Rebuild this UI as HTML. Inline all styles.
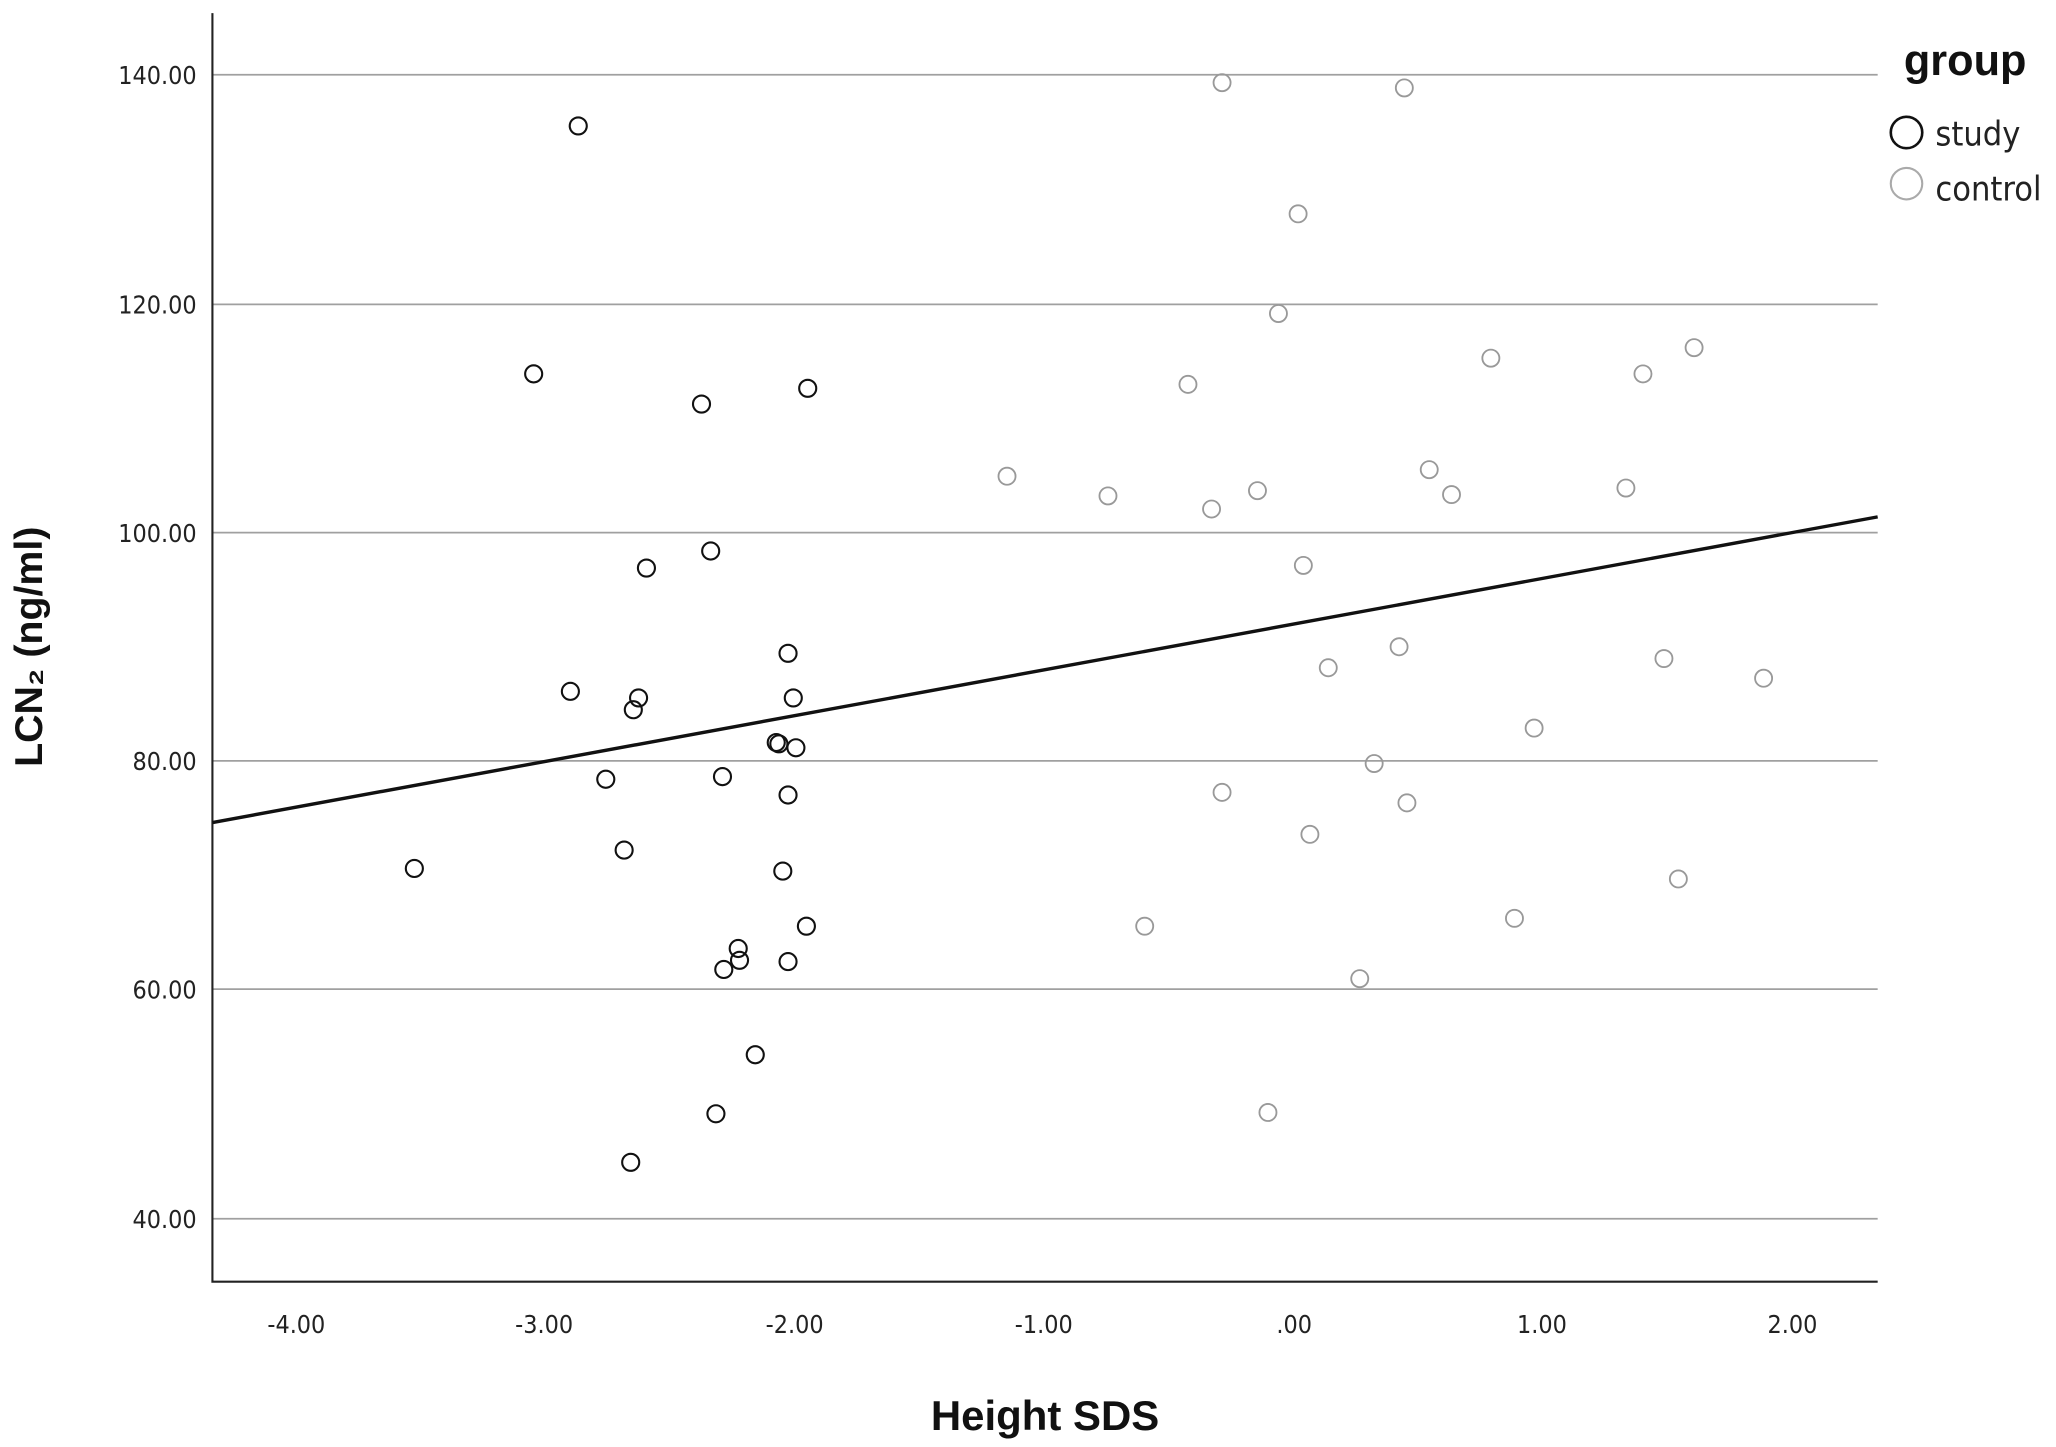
<!DOCTYPE html>
<html><head><meta charset="utf-8"><style>html,body{margin:0;padding:0;background:#fff}svg{display:block}</style></head>
<body>
<svg width="2056" height="1447" viewBox="0 0 1568 1103" preserveAspectRatio="none" xmlns="http://www.w3.org/2000/svg">
<rect width="1568" height="1103" fill="#fff"/>
<g stroke="#a0a0a0" stroke-width="1.3">
<line x1="162" y1="57" x2="1432" y2="57"/><line x1="162" y1="232" x2="1432" y2="232"/>
<line x1="162" y1="406" x2="1432" y2="406"/><line x1="162" y1="580" x2="1432" y2="580"/>
<line x1="162" y1="754" x2="1432" y2="754"/><line x1="162" y1="929" x2="1432" y2="929"/>
</g>
<path d="M162 10 V977 H1432" fill="none" stroke="#222" stroke-width="1.6"/>
<g font-family="'DejaVu Sans Condensed','Liberation Sans',sans-serif" font-size="19" fill="#222" text-anchor="end">
<text x="150" y="64">140.00</text><text x="150" y="239">120.00</text><text x="150" y="413">100.00</text>
<text x="150" y="587">80.00</text><text x="150" y="761">60.00</text><text x="150" y="936">40.00</text>
</g>
<g font-family="'DejaVu Sans Condensed','Liberation Sans',sans-serif" font-size="19" fill="#222" text-anchor="middle">
<text x="226" y="1016">-4.00</text><text x="415" y="1016">-3.00</text><text x="606" y="1016">-2.00</text>
<text x="796" y="1016">-1.00</text><text x="987" y="1016">.00</text><text x="1176" y="1016">1.00</text><text x="1367" y="1016">2.00</text>
</g>
<line x1="162" y1="627" x2="1432" y2="394" stroke="#111" stroke-width="2.6"/>
<g fill="none" stroke="#999" stroke-width="1.4">
<circle cx="932" cy="63" r="6.5"/><circle cx="1071" cy="67" r="6.5"/><circle cx="990" cy="163" r="6.5"/><circle cx="975" cy="239" r="6.5"/><circle cx="1137" cy="273" r="6.5"/><circle cx="1292" cy="265" r="6.5"/><circle cx="1253" cy="285" r="6.5"/><circle cx="906" cy="293" r="6.5"/><circle cx="768" cy="363" r="6.5"/><circle cx="845" cy="378" r="6.5"/><circle cx="924" cy="388" r="6.5"/><circle cx="959" cy="374" r="6.5"/><circle cx="1090" cy="358" r="6.5"/><circle cx="1107" cy="377" r="6.5"/><circle cx="1240" cy="372" r="6.5"/><circle cx="994" cy="431" r="6.5"/><circle cx="1067" cy="493" r="6.5"/><circle cx="1269" cy="502" r="6.5"/><circle cx="1013" cy="509" r="6.5"/><circle cx="1345" cy="517" r="6.5"/><circle cx="1170" cy="555" r="6.5"/><circle cx="1048" cy="582" r="6.5"/><circle cx="932" cy="604" r="6.5"/><circle cx="1073" cy="612" r="6.5"/><circle cx="999" cy="636" r="6.5"/><circle cx="1280" cy="670" r="6.5"/><circle cx="873" cy="706" r="6.5"/><circle cx="1155" cy="700" r="6.5"/><circle cx="1037" cy="746" r="6.5"/><circle cx="967" cy="848" r="6.5"/>
</g>
<g fill="none" stroke="#111" stroke-width="1.6">
<circle cx="441" cy="96" r="6.5"/><circle cx="407" cy="285" r="6.5"/><circle cx="535" cy="308" r="6.5"/><circle cx="616" cy="296" r="6.5"/><circle cx="542" cy="420" r="6.5"/><circle cx="493" cy="433" r="6.5"/><circle cx="601" cy="498" r="6.5"/><circle cx="435" cy="527" r="6.5"/><circle cx="487" cy="532" r="6.5"/><circle cx="483" cy="541" r="6.5"/><circle cx="605" cy="532" r="6.5"/><circle cx="592" cy="566" r="6.5"/><circle cx="594" cy="567" r="6.5"/><circle cx="607" cy="570" r="6.5"/><circle cx="462" cy="594" r="6.5"/><circle cx="551" cy="592" r="6.5"/><circle cx="601" cy="606" r="6.5"/><circle cx="316" cy="662" r="6.5"/><circle cx="476" cy="648" r="6.5"/><circle cx="597" cy="664" r="6.5"/><circle cx="615" cy="706" r="6.5"/><circle cx="563" cy="723" r="6.5"/><circle cx="564" cy="732" r="6.5"/><circle cx="552" cy="739" r="6.5"/><circle cx="601" cy="733" r="6.5"/><circle cx="576" cy="804" r="6.5"/><circle cx="546" cy="849" r="6.5"/><circle cx="481" cy="886" r="6.5"/>
</g>
<text x="1452" y="57" font-family="'Liberation Sans',sans-serif" font-weight="bold" font-size="33" fill="#111">group</text>
<circle cx="1454" cy="101" r="12" fill="none" stroke="#111" stroke-width="2"/>
<circle cx="1454" cy="140" r="12" fill="none" stroke="#aaa" stroke-width="1.6"/>
<g font-family="'DejaVu Sans Condensed','Liberation Sans',sans-serif" font-size="26" fill="#222">
<text x="1476" y="111">study</text><text x="1476" y="153">control</text>
</g>
<text transform="translate(32,493) rotate(-90)" text-anchor="middle" font-family="'Liberation Sans',sans-serif" font-weight="bold" font-size="30" fill="#111">LCN₂ (ng/ml)</text>
<text x="797" y="1090" text-anchor="middle" font-family="'Liberation Sans',sans-serif" font-weight="bold" font-size="32" fill="#111">Height SDS</text>
</svg>
</body></html>
